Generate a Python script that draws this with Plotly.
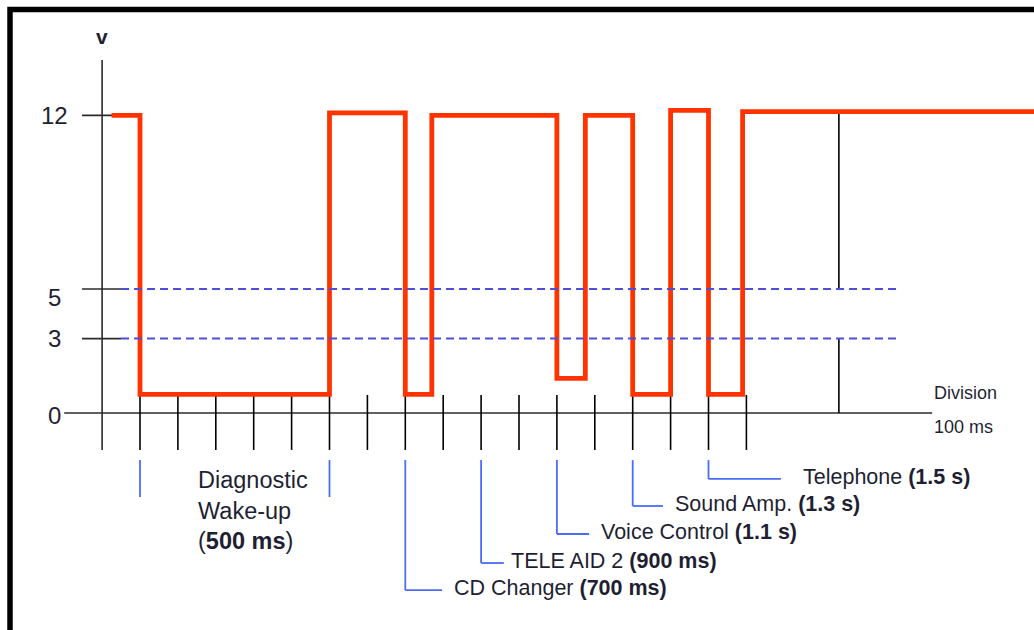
import plotly.graph_objects as go

# ---- data -------------------------------------------------------------
# Bus voltage: time of each edge (in 100 ms divisions) and level held after it (V)
edge_t = [-0.75, 0, 5, 7, 7.7, 11, 11.75, 13, 14, 15, 15.9, 23.6]
level_v = [12.0, 0.75, 12.1, 0.75, 12.0, 1.4, 12.0, 0.75, 12.2, 0.75, 12.15, 12.15]

# Voltage axis
v_ticks = [12, 5, 3, 0]
thresholds = [5, 3]

# Time divisions (100 ms each)
divisions = list(range(0, 17))
division_ms = 100

# Diagnostic wake-up window
wake_ms = [0, 500]
wake_text = ["Diagnostic", "Wake-up", "(<b>500 ms</b>)"]

# Control units and their wake-up answer times
modules = ["CD Changer", "TELE AID 2", "Voice Control", "Sound Amp.", "Telephone"]
module_ms = [700, 900, 1100, 1300, 1500]
module_time_text = ["700 ms", "900 ms", "1.1 s", "1.3 s", "1.5 s"]

# ---- geometry ---------------------------------------------------------
W, H = 1034, 630
PX_PER_DIV, X0_PX = 37.9, 140.0
PX_PER_V, Y0_PX = 24.8, 413.0
x_range = [-X0_PX / PX_PER_DIV, (W - X0_PX) / PX_PER_DIV]
y_range = [(Y0_PX - H) / PX_PER_V, Y0_PX / PX_PER_V]

RED = "#ff3300"
BLUE_DASH = "#4f4fd6"
BLUE_LEAD = "#4a6cf7"
INK = "#1f1f33"
AXIS = "#2b2b2b"

TICK_TOP, TICK_BOTTOM = 0.73, -1.49
LEAD_TOP = -1.9
lead_bottom = [-7.14, -6.05, -4.88, -3.75, -2.66]
lead_len = [0.97, 0.6, 0.85, 0.8, 1.91]
text_gap = [0.26, 0.14, 0.26, 0.26, 0.52]

shapes = []
annotations = []


def seg(x0, y0, x1, y1, color=AXIS, width=1.6, dash=None, layer="below"):
    shapes.append(dict(type="line", xref="x", yref="y", x0=x0, y0=y0, x1=x1, y1=y1,
                       line=dict(color=color, width=width, dash=dash), layer=layer))


# outer frame
shapes.append(dict(type="rect", xref="paper", yref="paper",
                   x0=10 / W, x1=1.05, y0=-0.05, y1=1 - 9.5 / H,
                   line=dict(color="black", width=5.5), layer="below"))

# voltage axis and its ticks
seg(-1, 14.23, -1, TICK_BOTTOM)
for v in v_ticks:
    if v != 0:
        seg(-1.53, v, -0.5, v)
    annotations.append(dict(x=-2.26, y=v, xref="x", yref="y", text=str(v),
                            showarrow=False, xanchor="center", yanchor="middle",
                            yshift=-8 if v == 5 else (-2 if v == 0 else 0),
                            font=dict(size=24, color=INK)))
annotations.append(dict(x=-1.0, y=15.0, xref="x", yref="y", text="<b>v</b>",
                        showarrow=False, xanchor="center", yanchor="middle",
                        yshift=5, font=dict(size=21, color=INK)))

# time axis and division ticks
seg(-2.0, 0, 20.9, 0)
for d in divisions:
    seg(d, TICK_TOP, d, TICK_BOTTOM, color="black", width=1.6)
annotations.append(dict(x=20.9, y=0.81, xref="x", yref="y", text="Division",
                        showarrow=False, xanchor="left", yanchor="middle",
                        font=dict(size=18, color=INK)))
annotations.append(dict(x=20.9, y=-0.56, xref="x", yref="y",
                        text=f"{division_ms} ms",
                        showarrow=False, xanchor="left", yanchor="middle",
                        font=dict(size=18, color=INK)))

# reference marker on the right
seg(18.44, 12.2, 18.44, 5, color="black", width=1.6)
seg(18.44, 3, 18.44, 0, color="black", width=1.6)

# threshold levels
for v in thresholds:
    seg(-0.5, v, 19.95, v, color=BLUE_DASH, width=2, dash="8px,5px", layer="above")

# wake-up window brackets and label
for ms in wake_ms:
    t = ms / division_ms
    seg(t, LEAD_TOP, t, -3.39, color=BLUE_LEAD, width=1.8)
annotations.append(dict(x=1.48, y=-3.95, xref="x", yref="y",
                        text="<br>".join(wake_text), align="left",
                        showarrow=False, xanchor="left", yanchor="middle",
                        font=dict(size=23.5, color=INK)))

# control unit leaders and labels
for name, ms, tt, vb, ln, gap in zip(modules, module_ms, module_time_text,
                                     lead_bottom, lead_len, text_gap):
    t = ms / division_ms
    seg(t, LEAD_TOP, t, vb, color=BLUE_LEAD, width=1.8)
    seg(t, vb, t + ln, vb, color=BLUE_LEAD, width=1.8)
    annotations.append(dict(x=t + ln + gap, y=vb, xref="x", yref="y",
                            text=f"{name} <b>({tt})</b>",
                            showarrow=False, xanchor="left", yanchor="middle",
                            yshift=2, font=dict(size=21.5, color=INK)))

fig = go.Figure()
fig.add_trace(go.Scatter(x=edge_t, y=level_v, mode="lines",
                         line=dict(color=RED, width=4.8, shape="hv"),
                         hoverinfo="skip", showlegend=False))

fig.update_layout(
    width=W, height=H, autosize=False,
    margin=dict(l=0, r=0, t=0, b=0),
    paper_bgcolor="white", plot_bgcolor="white",
    font=dict(family="Liberation Sans, Arial, sans-serif", color=INK),
    xaxis=dict(range=x_range, visible=False, fixedrange=True),
    yaxis=dict(range=y_range, visible=False, fixedrange=True),
    shapes=shapes, annotations=annotations,
)

fig.write_html("out.html")
